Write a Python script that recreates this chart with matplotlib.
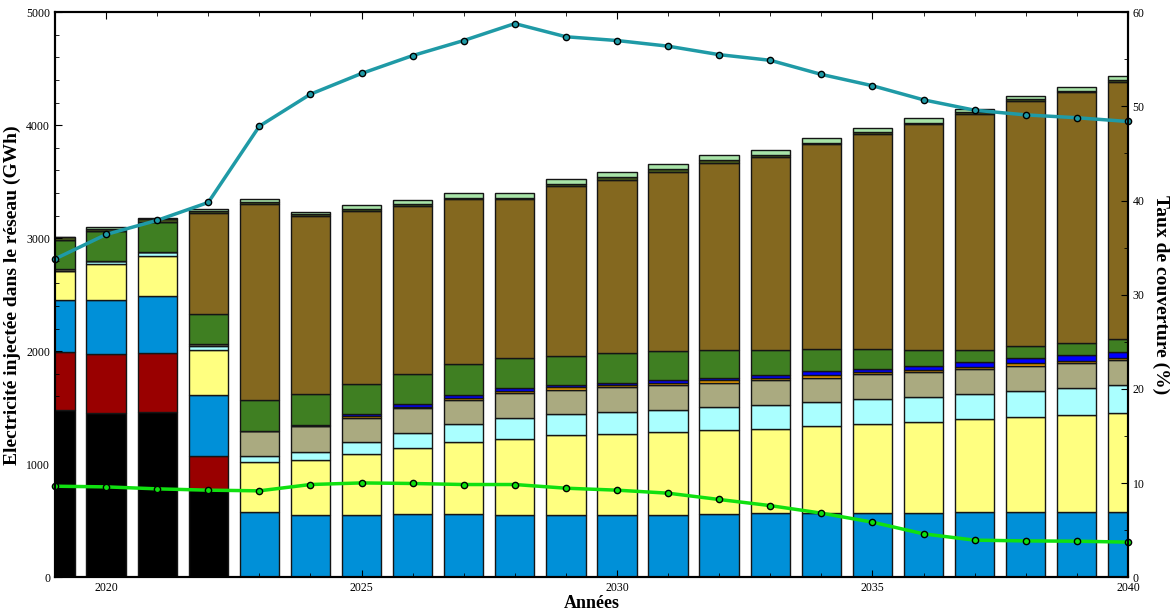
import numpy as np
import matplotlib.pyplot as plt
from matplotlib.ticker import MultipleLocator

plt.rcParams['font.family'] = ['Liberation Serif', 'DejaVu Serif']

years = list(range(2019, 2041))

# GWh par filiere (lecture du graphique)
fioul = [1478, 1454, 1458, 770] + [0] * 18
charbon = [516, 520, 522, 301] + [0] * 18
hydro = [463, 483, 507, 537, 575, 549, 549, 558, 558, 549, 551, 552, 552, 560,
         564, 564, 564, 564, 573, 573, 575, 581]
solaire = [254, 319, 357, 401, 443, 486, 540, 587, 637, 678, 703, 714, 731, 741,
           746, 772, 790, 811, 823, 846, 861, 876]
eolien = [0, 24, 35, 41, 53, 77, 106, 132, 159, 183, 186, 194, 201, 203,
          210, 213, 219, 221, 226, 233, 239, 248]
geoth = [21, 0, 0, 10, 224, 224, 218, 219, 218, 216, 221, 224, 218, 219,
         221, 218, 221, 221, 219, 221, 219, 215]
biogaz = [0, 0, 0, 0, 0, 6, 12, 12, 18, 24, 19, 16, 20, 20,
          20, 24, 20, 19, 23, 24, 23, 24]
stockage = [0, 0, 0, 0, 0, 8, 18, 23, 23, 26, 22, 23, 27, 24,
            27, 35, 30, 34, 39, 41, 48, 47]
bagasse = [256, 265, 269, 267, 271, 270, 271, 271, 272, 268, 260, 257, 254, 248,
           227, 195, 177, 139, 112, 112, 109, 113]
biomasse = [0, 0, 0, 897, 1735, 1575, 1528, 1487, 1458, 1399, 1498, 1539, 1587, 1655,
            1705, 1811, 1903, 2000, 2089, 2165, 2216, 2283]
dechets = [24, 18, 18, 18, 18, 17, 18, 18, 17, 17, 18, 24, 24, 20,
           15, 15, 15, 15, 15, 15, 15, 15]
autres = [0, 12, 14, 17, 24, 24, 32, 35, 41, 44, 47, 47, 47, 47,
          44, 44, 38, 36, 29, 33, 32, 32]

taux_enr = [33.8, 36.4, 37.9, 39.8, 47.9, 51.3, 53.5, 55.4, 57.0, 58.8, 57.4, 57.0,
            56.4, 55.5, 54.9, 53.4, 52.2, 50.7, 49.6, 49.1, 48.8, 48.4]
taux_vert = [9.66, 9.59, 9.38, 9.24, 9.17, 9.84, 10.01, 9.95, 9.84, 9.84, 9.45, 9.24,
             8.92, 8.25, 7.6, 6.8, 5.84, 4.6, 3.93, 3.85, 3.82, 3.72]

layers = [
    (fioul, '#000000'),
    (charbon, '#990000'),
    (hydro, '#0090d8'),
    (solaire, '#ffff80'),
    (eolien, '#aaffff'),
    (geoth, '#aaaa80'),
    (biogaz, '#f0a000'),
    (stockage, '#0000ff'),
    (bagasse, '#3f7f22'),
    (biomasse, '#84681f'),
    (dechets, '#4a5e1c'),
    (autres, '#a8e4a8'),
]

fig = plt.figure(figsize=(11.7, 6.14), dpi=100)
ax = fig.add_axes([0.047, 0.06, 0.917, 0.92])

bottom = np.zeros(len(years))
for vals, col in layers:
    v = np.array(vals, dtype=float)
    ax.bar(years, v, bottom=bottom, width=0.77, color=col,
           edgecolor='#151515', linewidth=1.0)
    bottom += v

ax.set_xlim(2019, 2040)
ax.set_ylim(0, 5000)
ax.xaxis.set_major_locator(MultipleLocator(5))
ax.xaxis.set_minor_locator(MultipleLocator(1))
ax.yaxis.set_major_locator(MultipleLocator(1000))
ax.yaxis.set_minor_locator(MultipleLocator(200))
ax.tick_params(which='both', direction='in', top=True, labelsize=8.5)
ax.tick_params(which='major', length=5)
ax.tick_params(which='minor', length=3)
ax.set_xlabel('Années', fontsize=13, fontweight='bold', labelpad=1)
ax.set_ylabel('Electricité injectée dans le réseau (GWh)', fontsize=14,
              fontweight='bold', labelpad=4)
for s in ax.spines.values():
    s.set_linewidth(1.5)

ax2 = ax.twinx()
ax2.plot(years, taux_enr, color='#1f9aa6', lw=2.5, marker='o', ms=4.5,
         mfc='#1f9aa6', mec='black', mew=1, clip_on=False)
ax2.plot(years, taux_vert, color='#10e010', lw=2.5, marker='o', ms=4.5,
         mfc='#10e010', mec='black', mew=1, clip_on=False)
ax2.set_ylim(0, 60)
ax2.yaxis.set_major_locator(MultipleLocator(10))
ax2.yaxis.set_minor_locator(MultipleLocator(5))
ax2.tick_params(which='both', direction='in', labelsize=8.5)
ax2.tick_params(which='major', length=5)
ax2.tick_params(which='minor', length=3)
ax2.set_ylabel('Taux de couverture (%)', fontsize=14, fontweight='bold',
               rotation=270, labelpad=18)
for s in ax2.spines.values():
    s.set_linewidth(1.5)

fig.savefig('out.png', dpi=100)
